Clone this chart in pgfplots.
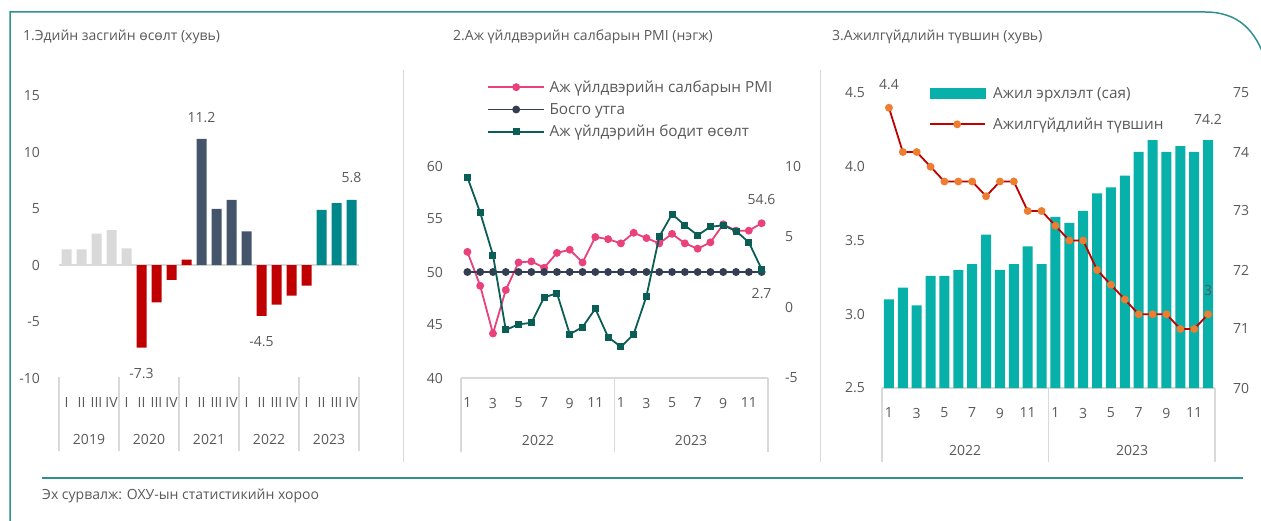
\documentclass[border=0pt]{standalone}
\usepackage{pgfplots}
\pgfplotsset{compat=1.18}
\usepackage{fontspec}
\setmainfont{Open Sans}
\definecolor{txt}{HTML}{595959}
\definecolor{frame}{HTML}{2F9090}
\definecolor{sep}{HTML}{D9D9D9}
\definecolor{gbar}{HTML}{D9D9D9}
\definecolor{rbar}{HTML}{C00000}
\definecolor{dbar}{HTML}{44546A}
\definecolor{tbar}{HTML}{00878A}
\definecolor{pmi}{HTML}{E8417C}
\definecolor{thr}{HTML}{333F50}
\definecolor{grw}{HTML}{0B5E56}
\definecolor{emp}{HTML}{07B0A8}
\definecolor{unl}{HTML}{C00000}
\definecolor{unm}{HTML}{ED7D31}
\newcommand{\fs}{\fontsize{14}{16}\selectfont}
\newcommand{\fl}{\fontsize{15.3}{17}\selectfont}
\tikzset{lbl/.style={font=\fs, text=txt, inner sep=0pt, anchor=center}}
\pgfplotsset{
  base/.style={scale only axis, anchor=south west,
    axis line style={draw=none}, separate axis lines, tick style={draw=none}, major tick length=0pt,
    ticklabel style={font=\fs, text=txt, inner sep=0pt},
    xticklabel style={anchor=center, yshift=-25pt}}
}
\begin{document}
\begin{tikzpicture}[x=1pt,y=1pt]
\useasboundingbox (0pt,0pt) rectangle (1261pt,-521pt);
% frame
\draw[frame, line width=1.5pt] (10pt,-523pt) -- (10pt,-12pt) -- (1205pt,-12pt) .. controls (1238pt,-12pt) and (1256pt,-30pt) .. (1266pt,-62pt);
\draw[frame, line width=1.5pt] (42pt,-478pt) -- (1243pt,-478pt);
\node[font=\fs, text=txt, inner sep=0pt, anchor=west] at (42pt,-496pt) {Эх сурвалж: ОХУ-ын статистикийн хороо};
% titles
\node[font=\fs, text=txt, inner sep=0pt, anchor=west] at (23pt,-37pt) {1.Эдийн засгийн өсөлт (хувь)};
\node[font=\fs, text=txt, inner sep=0pt, anchor=west] at (453pt,-37pt) {2.Аж үйлдвэрийн салбарын PMI (нэгж)};
\node[font=\fs, text=txt, inner sep=0pt, anchor=west] at (832pt,-37pt) {3.Ажилгүйдлийн түвшин (хувь)};
% panel separators
\draw[sep, line width=1pt] (403pt,-70pt) -- (403pt,-462pt);
\draw[sep, line width=1pt] (820pt,-70pt) -- (820pt,-462pt);
% panel 1 category axis
\foreach \xx in {59,119,179,239,299,359} \draw[sep, line width=1.5pt] (\xx pt,-377pt) -- (\xx pt,-451pt);
\foreach \xx/\yy in {89/2019,149/2020,209/2021,269/2022,329/2023} \node[lbl] at (\xx pt,-439pt) {\yy};
% panel 2 category axis
\draw[sep, line width=1.5pt] (461pt,-378pt) -- (768pt,-378pt);
\foreach \xx in {461,614.5,768} \draw[sep, line width=1.5pt] (\xx pt,-378pt) -- (\xx pt,-452pt);
\node[lbl] at (538pt,-440pt) {2022};
\node[lbl] at (691pt,-440pt) {2023};
% panel 3 category axis
\draw[sep, line width=1.5pt] (882pt,-388pt) -- (1215pt,-388pt);
\foreach \xx in {882,1048.5,1215} \draw[sep, line width=1.5pt] (\xx pt,-388pt) -- (\xx pt,-462pt);
\node[lbl] at (965pt,-450pt) {2022};
\node[lbl] at (1132pt,-450pt) {2023};

% ---------- Panel 1 ----------
\begin{axis}[base, at={(59pt,-378pt)}, width=300pt, height=282pt,
  xmin=0.5, xmax=20.5, ymin=-10, ymax=15,
  ytick={-10,-5,0,5,10,15}, yticklabels={-10,-5,0,5,10,15},
  yticklabel style={anchor=east, xshift=-19pt},
  xtick={1,...,20},
  xticklabels={I,II,III,IV,I,II,III,IV,I,II,III,IV,I,II,III,IV,I,II,III,IV},
  ybar, bar width=10pt, bar shift=0pt, clip=false]
\draw[sep, line width=1.5pt] (axis cs:0.5,0) -- (axis cs:20.5,0);
\addplot[fill=gbar, draw=none] coordinates {(1,1.4)(2,1.4)(3,2.8)(4,3.1)(5,1.5)};
\addplot[fill=rbar, draw=none] coordinates {(6,-7.3)(7,-3.3)(8,-1.3)(9,0.5)};
\addplot[fill=dbar, draw=none] coordinates {(10,11.2)(11,5.0)(12,5.8)(13,3.0)};
\addplot[fill=rbar, draw=none] coordinates {(14,-4.5)(15,-3.5)(16,-2.7)(17,-1.8)};
\addplot[fill=tbar, draw=none] coordinates {(18,4.9)(19,5.5)(20,5.8)};
\node[lbl, yshift=21pt] at (axis cs:10,11.2) {11.2};
\node[lbl, yshift=22pt] at (axis cs:20,5.8) {5.8};
\node[lbl, yshift=-26pt] at (axis cs:6,-7.3) {-7.3};
\node[lbl, yshift=-26pt] at (axis cs:14,-4.5) {-4.5};
\end{axis}

% ---------- Panel 2 ----------
\begin{axis}[base, at={(461pt,-378pt)}, width=307pt, height=212pt,
  xmin=0.5, xmax=24.5, ymin=40, ymax=60,
  ytick={40,45,50,55,60}, yticklabels={40,45,50,55,60},
  yticklabel style={anchor=east, xshift=-18pt},
  xtick={1,3,...,23}, xticklabels={1,3,5,7,9,11,1,3,5,7,9,11}, clip=false]
\addplot[pmi, line width=1.8pt, mark=*, mark size=3pt, mark options={fill=pmi, draw=pmi, solid}] coordinates {
(1,51.9)(2,48.7)(3,44.2)(4,48.3)(5,50.9)(6,51.0)(7,50.4)(8,51.8)(9,52.1)(10,50.9)(11,53.3)(12,53.1)
(13,52.7)(14,53.7)(15,53.2)(16,52.7)(17,53.6)(18,52.7)(19,52.2)(20,52.8)(21,54.5)(22,53.9)(23,53.9)(24,54.6)};
\addplot[thr, line width=1.8pt, mark=*, mark size=3pt, mark options={fill=thr, draw=thr, solid}] coordinates {
(1,50)(2,50)(3,50)(4,50)(5,50)(6,50)(7,50)(8,50)(9,50)(10,50)(11,50)(12,50)
(13,50)(14,50)(15,50)(16,50)(17,50)(18,50)(19,50)(20,50)(21,50)(22,50)(23,50)(24,50)};
\node[lbl, yshift=24pt] at (axis cs:24,54.6) {54.6};
\end{axis}
\begin{axis}[base, at={(461pt,-378pt)}, width=307pt, height=212pt,
  xmin=0.5, xmax=24.5, ymin=-5, ymax=10,
  ytick={-5,0,5,10}, yticklabels={-5,0,5,10}, yticklabel pos=right,
  yticklabel style={anchor=west, xshift=17pt},
  xtick=\empty, clip=false,
  legend image code/.code={\draw[mark repeat=2, mark phase=2, #1] plot coordinates {(0pt,0pt) (28pt,0pt) (56pt,0pt)};},
  legend style={draw=none, fill=none, at={(0.085,1.411)}, anchor=north west, font=\fl, text=txt,
    inner sep=0pt, row sep=6.5pt, nodes={inner sep=1.5pt},
    /tikz/every odd column/.append style={column sep=3pt}},
  legend cell align=left]
\addlegendimage{pmi, line width=1.8pt, mark=*, mark size=3pt, mark options={fill=pmi, draw=pmi, solid}}
\addlegendentry{Аж үйлдвэрийн салбарын PMI}
\addlegendimage{thr, line width=1.8pt, mark=*, mark size=3pt, mark options={fill=thr, draw=thr, solid}}
\addlegendentry{Босго утга}
\addplot[grw, line width=1.8pt, mark=square*, mark size=2.6pt, mark options={fill=grw, draw=grw, solid}] coordinates {
(1,9.2)(2,6.7)(3,3.7)(4,-1.6)(5,-1.2)(6,-1.1)(7,0.7)(8,1.0)(9,-1.9)(10,-1.4)(11,-0.1)(12,-2.1)
(13,-2.8)(14,-1.9)(15,0.8)(16,5.0)(17,6.6)(18,5.8)(19,5.1)(20,5.7)(21,5.8)(22,5.4)(23,4.6)(24,2.7)};
\addlegendentry{Аж үйлдэрийн бодит өсөлт}
\node[lbl, yshift=-24pt] at (axis cs:24,2.7) {2.7};
\end{axis}

% ---------- Panel 3 ----------
\begin{axis}[base, at={(882pt,-388pt)}, width=333pt, height=295pt,
  xmin=0.5, xmax=24.5, ymin=70, ymax=75,
  ytick={70,71,72,73,74,75}, yticklabels={70,71,72,73,74,75}, yticklabel pos=right,
  yticklabel style={anchor=west, xshift=18pt},
  xtick=\empty, ybar, bar width=10pt, bar shift=0pt, clip mode=individual]
\addplot[fill=emp, draw=none] coordinates {
(1,71.5)(2,71.7)(3,71.4)(4,71.9)(5,71.9)(6,72.0)(7,72.1)(8,72.6)(9,72.0)(10,72.1)(11,72.4)(12,72.1)
(13,72.9)(14,72.8)(15,73.0)(16,73.3)(17,73.4)(18,73.6)(19,74.0)(20,74.2)(21,74.0)(22,74.1)(23,74.0)(24,74.2)};
\node[lbl, yshift=21pt] at (axis cs:24,74.2) {74.2};
\end{axis}
\begin{axis}[base, at={(882pt,-388pt)}, width=333pt, height=295pt,
  xmin=0.5, xmax=24.5, ymin=2.5, ymax=4.5,
  ytick={2.5,3,3.5,4,4.5}, yticklabels={2.5,3.0,3.5,4.0,4.5},
  yticklabel style={anchor=east, xshift=-17pt},
  xtick={1,3,...,23}, xticklabels={1,3,5,7,9,11,1,3,5,7,9,11}, clip=false,
  legend image code/.code={\draw[mark repeat=2, mark phase=2, #1] plot coordinates {(0pt,0pt) (27.5pt,0pt) (55pt,0pt)};},
  legend style={draw=none, fill=none, at={(0.14,1.025)}, anchor=north west, font=\fl, text=txt,
    inner sep=0pt, row sep=15pt, nodes={inner sep=1.5pt},
    /tikz/every odd column/.append style={column sep=6pt}},
  legend cell align=left]
\addlegendimage{legend image code/.code={\fill[emp] (0pt,-5pt) rectangle (55pt,5pt);}}
\addlegendentry{Ажил эрхлэлт (сая)}
\addplot[unl, line width=1.8pt, mark=*, mark size=3pt, mark options={fill=unm, draw=unm, solid}] coordinates {
(1,4.4)(2,4.1)(3,4.1)(4,4.0)(5,3.9)(6,3.9)(7,3.9)(8,3.8)(9,3.9)(10,3.9)(11,3.7)(12,3.7)
(13,3.6)(14,3.5)(15,3.5)(16,3.3)(17,3.2)(18,3.1)(19,3.0)(20,3.0)(21,3.0)(22,2.9)(23,2.9)(24,3.0)};
\addlegendentry{Ажилгүйдлийн түвшин}
\node[lbl, yshift=23pt] at (axis cs:1,4.4) {4.4};
\node[lbl, yshift=24pt] at (axis cs:24,3.0) {3};
\end{axis}
\end{tikzpicture}
\end{document}
